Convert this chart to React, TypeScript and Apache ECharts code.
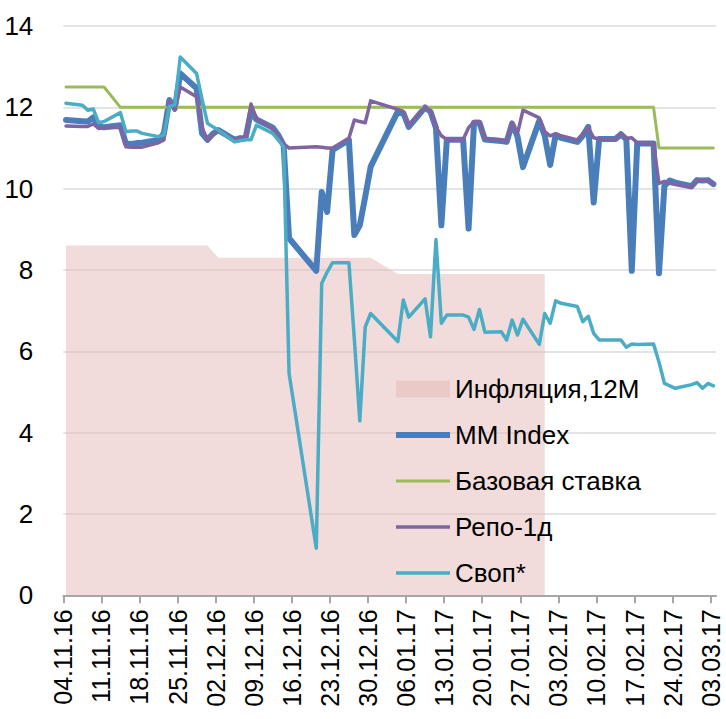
import React, { useEffect, useRef } from "react";
import * as echarts from "echarts";

// Trading days (DD.MM.YY)
const dates = [
  "04.11.16", "07.11.16", "08.11.16", "09.11.16", "10.11.16", "11.11.16", "14.11.16", "15.11.16", "16.11.16", "17.11.16",
  "18.11.16", "21.11.16", "22.11.16", "23.11.16", "24.11.16", "25.11.16", "28.11.16", "29.11.16", "30.11.16",
  "01.12.16", "02.12.16", "05.12.16", "06.12.16", "07.12.16", "08.12.16", "09.12.16", "12.12.16", "13.12.16", "14.12.16",
  "15.12.16", "20.12.16", "21.12.16", "22.12.16", "23.12.16", "26.12.16", "27.12.16", "28.12.16", "29.12.16", "30.12.16",
  "04.01.17", "05.01.17", "06.01.17", "09.01.17", "10.01.17", "11.01.17", "12.01.17", "13.01.17", "16.01.17", "17.01.17",
  "18.01.17", "19.01.17", "20.01.17", "23.01.17", "24.01.17", "25.01.17", "26.01.17", "27.01.17", "30.01.17", "31.01.17",
  "01.02.17", "02.02.17", "03.02.17", "06.02.17", "07.02.17", "08.02.17", "09.02.17", "10.02.17", "13.02.17", "14.02.17",
  "15.02.17", "16.02.17", "17.02.17", "20.02.17", "21.02.17", "22.02.17", "23.02.17", "24.02.17", "27.02.17", "28.02.17",
  "01.03.17", "02.03.17", "03.03.17",
];

const inflation = [
  8.6, 8.6, 8.6, 8.6, 8.6, 8.6, 8.6, 8.6, 8.6, 8.6,
  8.6, 8.6, 8.6, 8.6, 8.6, 8.6, 8.6, 8.6, 8.6,
  8.45, 8.3, 8.3, 8.3, 8.3, 8.3, 8.3, 8.3, 8.3, 8.3,
  8.3, 8.3, 8.3, 8.3, 8.3, 8.3, 8.3, 8.3, 8.3, 8.3,
  7.9, 7.9, 7.9, 7.9, 7.9, 7.9, 7.9, 7.9, 7.9, 7.9,
  7.9, 7.9, 7.9, 7.9, 7.9, 7.9, 7.9, 7.9, 7.9, 7.9,
  null, null, null, null, null, null, null, null, null, null,
  null, null, null, null, null, null, null, null, null, null,
  null, null, null,
];

const mmIndex = [
  11.69, 11.66, 11.65, 11.75, 11.52, 11.51, 11.56, 11.11, 11.1, 11.12,
  11.13, 11.2, 11.36, 12.18, 11.97, 12.83, 12.47, 11.36, 11.2,
  11.35, 11.44, 11.2, 11.24, 11.24, 11.9, 11.7, 11.5, 11.32, 11.07,
  8.78, 7.98, 9.92, 9.43, 10.95, 11.2, 8.86, 9.1, 9.8, 10.54,
  11.9, 11.86, 11.52, 12.0, 11.89, 11.5, 9.1, 11.2, 11.2, 9.02,
  11.62, 11.62, 11.21, 11.17, 11.15, 11.6, 11.28, 10.53, 11.67, 11.3,
  10.58, 11.32, 11.25, 11.15, 11.3, 11.52, 9.66, 11.22, 11.22, 11.34,
  11.21, 7.98, 11.11, 11.11, 7.92, 10.07, 10.2, 10.15, 10.06, 10.21,
  10.2, 10.21, 10.11,
];

const baseRate = [
  12.5, 12.5, 12.5, 12.5, 12.5, 12.5, 12, 12, 12, 12,
  12, 12, 12, 12, 12, 12, 12, 12, 12,
  12, 12, 12, 12, 12, 12, 12, 12, 12, 12,
  12, 12, 12, 12, 12, 12, 12, 12, 12, 12,
  12, 12, 12, 12, 12, 12, 12, 12, 12, 12,
  12, 12, 12, 12, 12, 12, 12, 12, 12, 12,
  12, 12, 12, 12, 12, 12, 12, 12, 12, 12,
  12, 12, 12, 12, 11, 11, 11, 11, 11, 11,
  11, 11, 11,
];

const repo1d = [
  11.54, 11.53, 11.53, 11.59, 11.48, 11.5, 11.51, 11.03, 11.02, 11.02,
  11.02, 11.13, 11.2, 12.14, 11.93, 12.5, 12.26, 11.5, 11.2,
  11.32, 11.42, 11.2, 11.26, 11.24, 12.08, 11.73, 11.48, 11.3, 11.1,
  11.0, 11.03, 11.02, 11.0, 11.0, 11.24, 11.69, 11.65, 11.62, 12.16,
  11.95, 11.9, 11.56, 12.01, 11.92, 11.52, 11.3, 11.21, 11.21, 11.5,
  11.65, 11.65, 11.23, 11.2, 11.18, 11.63, 11.36, 11.93, 11.74, 11.4,
  11.3, 11.35, 11.3, 11.2, 11.35, 11.5, 11.25, 11.22, 11.2, 11.36,
  11.24, 11.25, 11.13, 11.11, 10.13, 10.18, 10.13, 10.1, 10.03, 10.2,
  10.2, 10.2, 10.11,
];

const swap = [
  12.1, 12.05, 11.93, 11.96, 11.62, 11.65, 11.87, 11.4, 11.42, 11.42,
  11.36, 11.28, 11.32, 12.02, 12.06, 13.24, 12.83, 12.2, 11.61,
  11.52, 11.44, 11.15, 11.18, 11.2, 11.2, 11.56, 11.36, 11.2, 11.03,
  5.46, 1.16, 7.67, 7.95, 8.18, 8.18, 6.3, 4.29, 6.6, 6.93,
  6.24, 7.26, 6.84, 7.29, 6.36, 8.75, 6.69, 6.89, 6.89, 6.84,
  6.54, 7.03, 6.47, 6.48, 6.28, 6.77, 6.4, 6.79, 6.17, 6.93,
  6.69, 7.24, 7.18, 7.1, 6.73, 6.86, 6.44, 6.28, 6.28, 6.28,
  6.1, 6.18, 6.17, 6.18, 5.74, 5.21, 5.15, 5.09, 5.18, 5.23,
  5.09, 5.21, 5.15,
];

const seriesNames = ["Инфляция,12M", "MM Index", "Базовая ставка", "Репо-1д", "Своп*"];

const START = Date.UTC(2016, 10, 4);
const DAY = 86400000;
const pad = (n: number) => (n < 10 ? "0" + n : String(n));
function dayIndex(s: string): number {
  const [dd, mm, yy] = s.split(".").map(Number);
  return Math.round((Date.UTC(2000 + yy, mm - 1, dd) - START) / DAY);
}
function labelFor(idx: number): string {
  const d = new Date(START + Math.round(idx) * DAY);
  return pad(d.getUTCDate()) + "." + pad(d.getUTCMonth() + 1) + "." + String(d.getUTCFullYear()).slice(2);
}

// weekly ticks: 04.11.16 ... 03.03.17
const tickDays = Array.from({ length: 18 }, (_, i) => i * 7);
const tickLabels = tickDays.map(labelFor);

const FONT = "'Liberation Sans', Arial, sans-serif";

function toData(values: (number | null)[]) {
  return dates.map((d, i) => [dayIndex(d) + 0.5, values[i]]);
}

const lineIcon = (h: number) => `path://M0,0H54V${h}H0Z`;

export default function App() {
  const ref = useRef<HTMLDivElement>(null);

  useEffect(() => {
    document.body.style.margin = "0";
    if (!ref.current) return;
    const chart = echarts.init(ref.current, undefined, { renderer: "svg" });
    const lineBase = {
      type: "line",
      symbol: "none",
      showSymbol: false,
      silent: true,
      emphasis: { disabled: true },
    };
    chart.setOption({
      animation: false,
      backgroundColor: "#ffffff",
      grid: { left: 63.3, right: 9.9, top: 26, bottom: 123.7, containLabel: false },
      xAxis: {
        type: "value",
        min: 0,
        max: 120,
        interval: 7,
        axisLine: { show: true, lineStyle: { color: "#a6a6a6", width: 2 } },
        axisTick: {
          show: true,
          length: 8,
          lineStyle: { color: "#a6a6a6", width: 2 },
          customValues: tickDays,
        },
        axisLabel: {
          customValues: tickDays,
          rotate: 90,
          margin: 14,
          fontSize: 25,
          color: "#000",
          fontFamily: FONT,
          formatter: (v: number) => {
            const i = tickDays.indexOf(Math.round(v));
            return i >= 0 ? tickLabels[i] : "";
          },
        },
        splitLine: { show: false },
      },
      yAxis: {
        type: "value",
        min: 0,
        max: 14,
        interval: 2,
        axisLine: { show: false },
        axisTick: { show: false },
        axisLabel: { fontSize: 26, color: "#000", margin: 30, fontFamily: FONT },
        splitLine: { lineStyle: { color: "#e4e4e4", width: 2 } },
      },
      legend: {
        orient: "vertical",
        left: 396,
        top: 376,
        padding: 0,
        itemWidth: 54,
        itemHeight: 17,
        itemGap: 20,
        selectedMode: false,
        textStyle: { fontSize: 26, color: "#000", lineHeight: 25, fontFamily: FONT },
        data: [
          { name: seriesNames[0], icon: "rect", itemStyle: { color: "#ecc9c9" } },
          { name: seriesNames[1], icon: lineIcon(6), itemStyle: { color: "#4a7ebb" } },
          { name: seriesNames[2], icon: lineIcon(3), itemStyle: { color: "#9bbb59" } },
          { name: seriesNames[3], icon: lineIcon(3.5), itemStyle: { color: "#8064a2" } },
          { name: seriesNames[4], icon: lineIcon(3.5), itemStyle: { color: "#4bacc6" } },
        ],
      },
      series: [
        {
          ...lineBase,
          name: seriesNames[0],
          data: toData(inflation),
          color: "#ecc9c9",
          lineStyle: { width: 0, opacity: 0 },
          areaStyle: { color: "rgba(229,185,183,0.5)", opacity: 1 },
          z: 1,
        },
        {
          ...lineBase,
          name: seriesNames[1],
          data: toData(mmIndex),
          color: "#4a7ebb",
          lineStyle: { width: 6, color: "#4a7ebb", cap: "round", join: "round" },
          z: 2,
        },
        {
          ...lineBase,
          name: seriesNames[2],
          data: toData(baseRate),
          color: "#9bbb59",
          lineStyle: { width: 3, color: "#9bbb59", cap: "round", join: "round" },
          z: 3,
        },
        {
          ...lineBase,
          name: seriesNames[3],
          data: toData(repo1d),
          color: "#8064a2",
          lineStyle: { width: 3.5, color: "#8064a2", cap: "round", join: "round" },
          z: 4,
        },
        {
          ...lineBase,
          name: seriesNames[4],
          data: toData(swap),
          color: "#4bacc6",
          lineStyle: { width: 3.5, color: "#4bacc6", cap: "round", join: "round" },
          z: 5,
        },
      ],
    });
    return () => chart.dispose();
  }, []);

  return <div ref={ref} style={{ width: 726, height: 719 }} />;
}
